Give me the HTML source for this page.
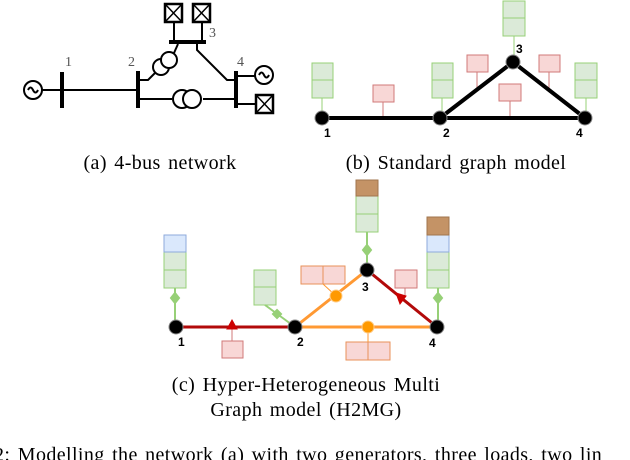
<!DOCTYPE html>
<html><head><meta charset="utf-8"><style>body{margin:0;background:#fff}svg{display:block}</style></head><body>
<svg width="630" height="460" viewBox="0 0 630 460" xmlns="http://www.w3.org/2000/svg">
<defs>
<g id="ld"><rect x="0" y="0" width="17" height="18" fill="#fff" stroke="#000" stroke-width="2.5"/><path d="M0 0L17 18M17 0L0 18" stroke="#000" stroke-width="1.5"/></g>
</defs>
<!-- panel a -->
<g fill="none" stroke="#000" stroke-width="2">
<circle cx="33" cy="90" r="9"/><path d="M28 90q2.5-5 5 0t5 0"/>
<path d="M42 90H138"/>
<path d="M62 72V108M138 71V108M236 71V108M169 42H206" stroke-width="4"/>
<path d="M138 80H148L156 72"/>
<circle cx="161" cy="67" r="8" fill="#fff"/><circle cx="169" cy="60" r="8" fill="#fff"/>
<path d="M174 53L178 44"/>
<path d="M197 44V50L227 80H236"/>
<path d="M138 99H172M203 99H236"/>
<circle cx="182" cy="99" r="9" fill="#fff"/><circle cx="192" cy="99" r="9" fill="#fff"/>
<path d="M174 22V42M202 22V42"/>
<path d="M236 76H255M236 104H257"/>
<circle cx="264" cy="75" r="9"/><path d="M259 75q2.5-5 5 0t5 0"/>
</g>
<use href="#ld" x="165" y="4"/><use href="#ld" x="193" y="4"/><use href="#ld" x="256" y="95"/>
<g font-family="Liberation Serif,serif" font-size="14" fill="#555"><text x="65" y="66">1</text><text x="128" y="66">2</text><text x="209" y="37">3</text><text x="237" y="66">4</text></g>
<g font-family="Liberation Serif,serif" font-size="20" letter-spacing="0.4" word-spacing="2" text-anchor="middle" fill="#000">
<text x="160" y="169">(a) 4-bus network</text>
<text x="456" y="169">(b) Standard graph model</text>
<text x="306" y="391">(c) Hyper-Heterogeneous Multi</text>
<text x="306" y="416">Graph model (H2MG)</text>
<text x="-6" y="461" text-anchor="start" font-size="20" letter-spacing="0.4" word-spacing="2">2: Modelling the network (a) with two generators, three loads, two lin</text>
</g>
<!-- panel b -->
<g stroke-width="1">
<g stroke="#97d077" fill="#dbead8">
<rect x="312" y="63" width="21" height="17"/><rect x="312" y="80" width="21" height="18"/><path d="M322 98V112"/>
<rect x="432" y="63" width="21" height="17"/><rect x="432" y="80" width="21" height="18"/><path d="M442 98V112"/>
<rect x="503" y="1" width="22" height="17"/><rect x="503" y="18" width="22" height="18"/><path d="M514 36V56"/>
<rect x="575" y="63" width="22" height="17"/><rect x="575" y="80" width="22" height="18"/><path d="M586 98V112"/>
</g>
<g stroke="#d07a78" fill="#f8d7d6">
<rect x="373" y="85" width="21" height="17"/><path d="M383 102V118"/>
<rect x="467" y="55" width="21" height="17"/><path d="M477 72V88"/>
<rect x="499" y="84" width="22" height="17"/><path d="M510 101V118"/>
<rect x="539" y="55" width="21" height="17"/><path d="M549 72V88"/>
</g>
</g>
<path d="M322 118H585M440 118L513 62L585 118" stroke="#000" stroke-width="4" fill="none"/>
<g fill="#000" stroke="#888" stroke-width="1"><circle cx="322" cy="118" r="7"/><circle cx="440" cy="118" r="7"/><circle cx="513" cy="62" r="7"/><circle cx="585" cy="118" r="7"/></g>
<g font-family="Liberation Sans,sans-serif" font-size="12" font-weight="bold"><text x="324" y="137">1</text><text x="443" y="137">2</text><text x="516" y="53">3</text><text x="576" y="137">4</text></g>
<!-- panel c -->
<g stroke-width="1">
<g stroke="#97d077" fill="#dbead8">
<rect x="164" y="252" width="22" height="18"/><rect x="164" y="270" width="22" height="18"/>
<rect x="254" y="270" width="22" height="17"/><rect x="254" y="287" width="22" height="18"/>
<rect x="356" y="196" width="22" height="18"/><rect x="356" y="214" width="22" height="18"/>
<rect x="427" y="252" width="22" height="18"/><rect x="427" y="270" width="22" height="18"/>
</g>
<g stroke="#8eaadb" fill="#dae8fc"><rect x="164" y="235" width="22" height="17"/><rect x="427" y="235" width="22" height="17"/></g>
<g stroke="#a0764e" fill="#c49366"><rect x="356" y="180" width="22" height="16"/><rect x="427" y="217" width="22" height="18"/></g>
<g stroke="#d07a78" fill="#f8d7d6">
<rect x="222" y="341" width="21" height="17"/>
<rect x="395" y="270" width="22" height="18"/>
</g>
<g stroke="#e8925a" fill="#f8d7d6">
<rect x="301" y="266" width="22" height="18"/><rect x="323" y="266" width="22" height="18"/>
<rect x="346" y="342" width="22" height="18"/><rect x="368" y="342" width="22" height="18"/>
</g>
</g>
<g stroke="#97d077" stroke-width="2" fill="#97d077">
<path d="M175 288V327M265 305L295 327M367 232V270M438 288V327"/>
<path d="M175 293l4 5-4 5-4-5z M367 245l4 5-4 5-4-5z M438 293l4 5-4 5-4-5z M277 310l4 4-4 4-4-4z"/>
</g>
<g stroke="#d07a78" stroke-width="1"><path d="M232 327V341M405 288V298"/></g>
<g stroke="#ff9933" stroke-width="1"><path d="M323 284L336 296M368 327V342"/></g>
<path d="M176 327H295M367 270L437 327" stroke="#b20a0a" stroke-width="3" fill="none"/>
<path d="M295 327H437M295 327L367 270" stroke="#ff9933" stroke-width="3" fill="none"/>
<path d="M232 320l5 9h-10z" fill="#c00" stroke="#c00"/>
<path d="M396 293l10 3-6 8z" fill="#c00" stroke="#c00"/>
<g fill="#ff9900" stroke="#ffcc88"><circle cx="336" cy="296" r="6"/><circle cx="368" cy="327" r="6"/></g>
<g fill="#000" stroke="#888" stroke-width="1"><circle cx="176" cy="327" r="7"/><circle cx="295" cy="327" r="7"/><circle cx="367" cy="270" r="7"/><circle cx="437" cy="327" r="7"/></g>
<g font-family="Liberation Sans,sans-serif" font-size="12" font-weight="bold"><text x="178" y="346">1</text><text x="297" y="346">2</text><text x="362" y="291">3</text><text x="429" y="347">4</text></g>
</svg>
</body></html>
